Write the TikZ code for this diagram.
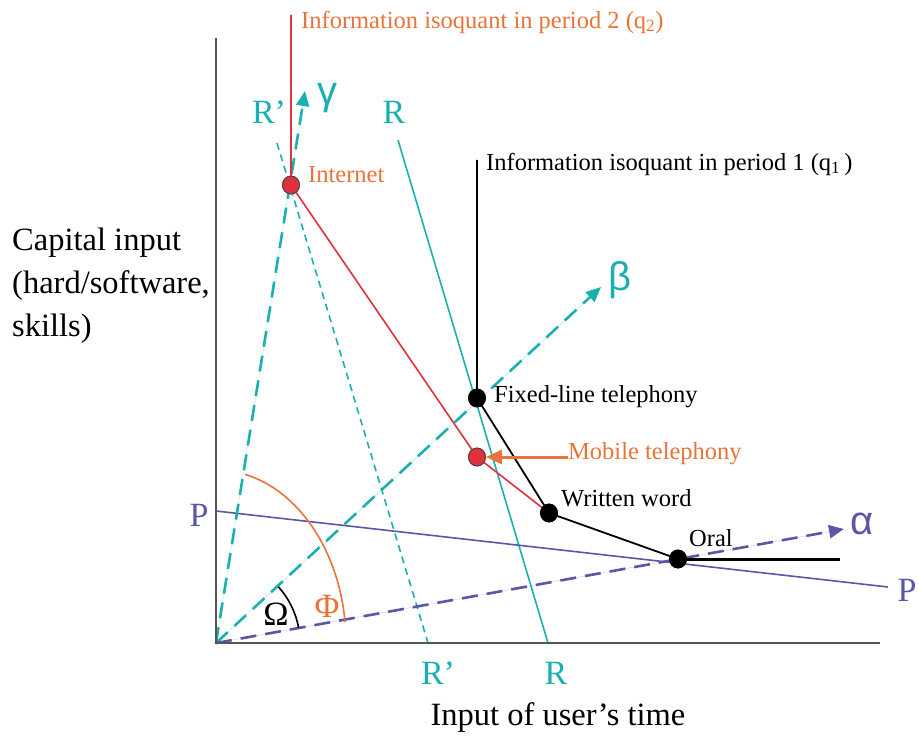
\documentclass[tikz,border=0pt]{standalone}
\usepackage{fontspec}
\setmainfont{Liberation Serif}
\newfontfamily\greekfont{Liberation Sans}
\usetikzlibrary{shapes.geometric, arrows.meta, positioning}
\usepackage{xcolor}
\definecolor{IsoRed}{HTML}{E0323C}
\definecolor{IsoOrange}{HTML}{E8743B}
\definecolor{RayTeal}{HTML}{1BB0B0}
\definecolor{PricePurple}{HTML}{5B57A6}
\definecolor{AxisGray}{HTML}{555555}
\tikzset{
    % Axes and isoquants
    axis/.style={
        draw=AxisGray,
        line width=1.5pt
    },
    isotwo/.style={
        draw=IsoRed,
        line width=1.6pt
    },
    isoone/.style={
        draw=black,
        line width=1.8pt
    },
    % Technology dots
    techdot/.style={
        ellipse,
        draw=black,
        fill=black,
        line width=0.8pt,
        minimum width=17pt,
        minimum height=18pt,
        inner sep=0pt
    },
    newdot/.style={
        techdot,
        fill=IsoRed,
        draw=black!75
    },
    % Rays and budget lines
    ray/.style={
        -{Triangle[length=15pt, width=13pt]},
        line width=2.6pt,
        dash pattern=on 16pt off 9pt
    },
    budget/.style={
        line width=1.6pt
    },
    budgetdash/.style={
        line width=1.6pt,
        dash pattern=on 7pt off 5pt
    },
    % Labels
    biglabel/.style={
        font=\fontsize{32.5}{43}\selectfont,
        align=left,
        inner sep=0pt
    },
    smalllabel/.style={
        font=\fontsize{24.5}{28}\selectfont,
        inner sep=0pt
    },
    linelabel/.style={
        font=\fontsize{34}{38}\selectfont,
        inner sep=0pt
    },
    greeklabel/.style={
        font=\greekfont\fontsize{40}{44}\selectfont,
        inner sep=0pt
    },
    callout/.style={
        -{Triangle[length=16pt, width=14pt]},
        draw=IsoOrange,
        line width=3pt
    }
}

\begin{document}
\begin{tikzpicture}[x=1pt, y=-1pt]
    \useasboundingbox (0,0) rectangle (919,738);

    % key points
    \coordinate (O) at (216,643);
    \coordinate (ytop) at (216,38);
    \coordinate (xend) at (880,643);

    \node[newdot] (internet) at (291,185) {};
    \node[techdot] (fixed) at (477,398) {};
    \node[newdot] (mobile) at (477,457) {};
    \node[techdot] (written) at (549,513) {};
    \node[techdot] (oral) at (678,559) {};

    \coordinate (q2top) at (291,15);
    \coordinate (q1top) at (477,160);
    \coordinate (q1end) at (840,559);

    \coordinate (gammatip) at (305,91);
    \coordinate (betatip) at (601,287);
    \coordinate (alphatip) at (844,529);

    \coordinate (Rtop) at (398,140);
    \coordinate (Rbot) at (548,643);
    \coordinate (Rptop) at (277,143);
    \coordinate (Rpbot) at (428,643);
    \coordinate (Pleft) at (216,511);
    \coordinate (Pright) at (888,587);

    % budget lines
    \draw[budget, draw=RayTeal] (Rtop) -- (Rbot);
    \draw[budgetdash, draw=RayTeal] (Rptop) -- (Rpbot);
    \draw[budget, draw=PricePurple] (Pleft) -- (Pright);

    % rays
    \draw[ray, draw=RayTeal, fill=RayTeal] (O) -- (gammatip);
    \draw[ray, draw=RayTeal, fill=RayTeal] (O) -- (betatip);
    \draw[ray, draw=PricePurple, fill=PricePurple] (O) -- (alphatip);

    % axes
    \draw[axis] (ytop) -- (O) -- (xend);

    % isoquants
    \draw[isotwo] (q2top) -- (internet.center) -- (mobile.center) -- (written.center);
    \draw[isoone] (q1top) -- (fixed.center) -- (written.center) -- (oral.center);
    \draw[isoone, line width=3pt] (oral.center) -- (q1end);

    % angles
    \draw[IsoOrange, line width=1.6pt] (O) ++(77:130pt and 173pt)
        arc[start angle=77, end angle=7, x radius=130pt, y radius=173pt];
    \draw[black, line width=1.6pt] (O) ++(42:84pt)
        arc[start angle=42, end angle=10.5, radius=84pt];

    % dots on top
    \node[newdot] at (internet) {};
    \node[techdot] at (fixed) {};
    \node[newdot] at (mobile) {};
    \node[techdot] at (written) {};
    \node[techdot] at (oral) {};

    % axis labels
    \node[biglabel, anchor=north west] (ylab) at (12,228)
        {Capital input\\(hard/software,\\skills)};
    \node[biglabel] (xlab) at (558,718) {Input of user’s time};

    % isoquant labels
    \node[smalllabel, anchor=west, text=IsoOrange] (q2lab) at (301,22)
        {Information isoquant in period 2 (q\textsubscript{2})};
    \node[smalllabel, anchor=west] (q1lab) at (486,164)
        {Information isoquant in period 1 (q\textsubscript{1}\,)};

    % technology labels
    \node[smalllabel, anchor=west, text=IsoOrange] (internetlab) at (308,175) {Internet};
    \node[smalllabel, anchor=west] (fixedlab) at (494,397) {Fixed-line telephony};
    \node[smalllabel, anchor=west, text=IsoOrange] (mobilelab) at (568,454) {Mobile telephony};
    \node[smalllabel, anchor=west] (writtenlab) at (561,498) {Written word};
    \node[smalllabel, anchor=west] (orallab) at (689,538) {Oral};
    \draw[callout] (mobilelab.west |- mobile) -- (mobile.east);

    % line labels
    \node[linelabel, text=RayTeal] (Rtoplab) at (394,112) {R};
    \node[linelabel, text=RayTeal] (Rbotlab) at (556,673) {R};
    \node[linelabel, text=RayTeal] (Rptoplab) at (269,112) {R’};
    \node[linelabel, text=RayTeal] (Rpbotlab) at (438,673) {R’};
    \node[linelabel, text=PricePurple] (Pleftlab) at (199,515) {P};
    \node[linelabel, text=PricePurple] (Prightlab) at (907,590) {P};

    % ray labels
    \node[greeklabel, text=RayTeal] (gammalab) at (327,98) {γ};
    \node[greeklabel, text=RayTeal] (betalab) at (620,280) {β};
    \node[greeklabel, text=PricePurple] (alphalab) at (862,524) {α};

    % angle labels
    \node[linelabel, text=black] (omegalab) at (276,614) {Ω};
    \node[linelabel, text=IsoOrange] (philab) at (327,606) {Φ};
\end{tikzpicture}
\end{document}
